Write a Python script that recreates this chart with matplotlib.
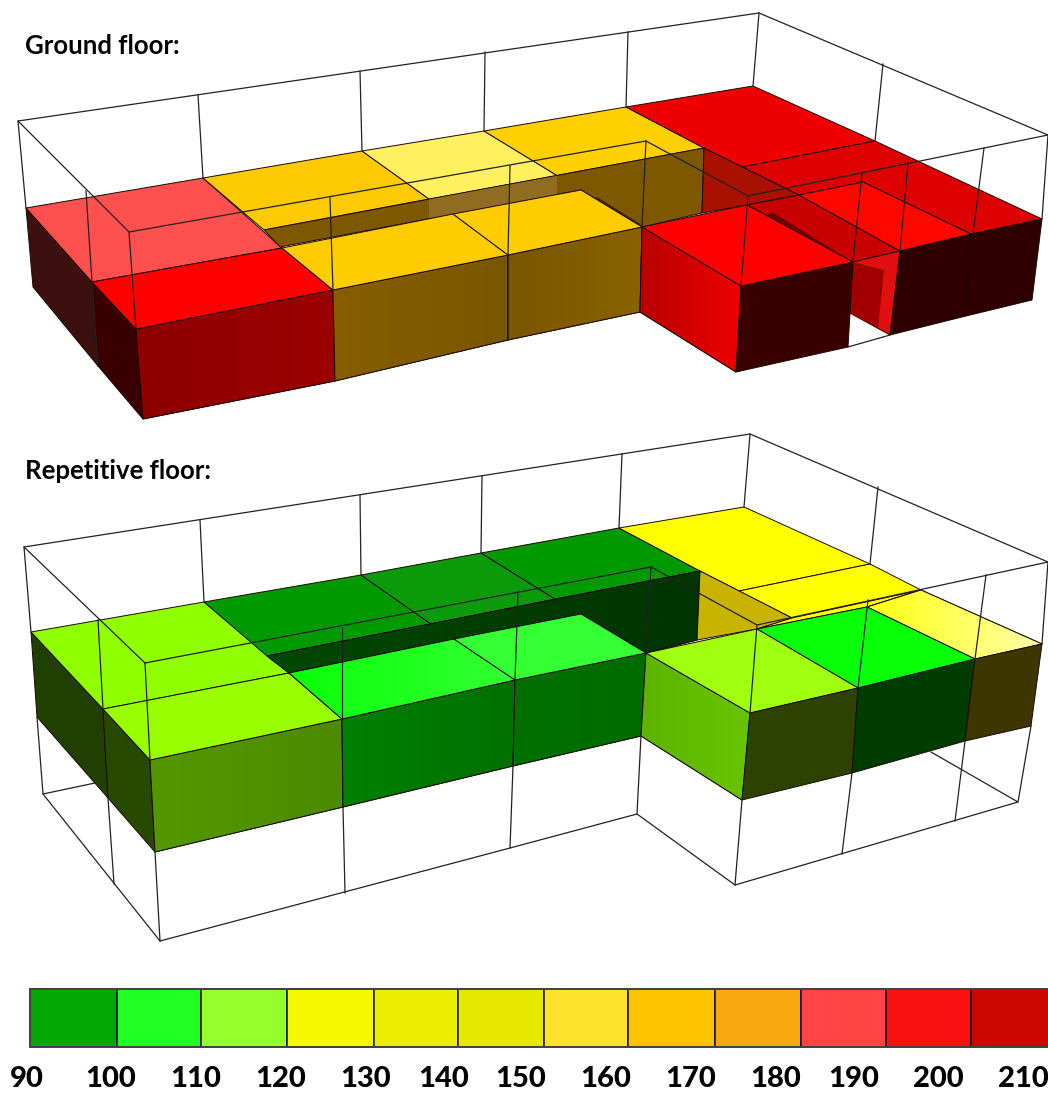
import matplotlib
matplotlib.use("Agg")
import matplotlib.pyplot as plt
from matplotlib.colors import LinearSegmentedColormap
from matplotlib.patches import Polygon
import numpy as np

plt.rcParams['font.family'] = ['Lato', 'DejaVu Sans']

# colour scale
scale_labels = [90, 100, 110, 120, 130, 140, 150, 160, 170, 180, 190, 200, 210]
scale_label_x = [27, 111, 196, 281, 366, 444, 521, 606, 691, 776, 854, 938, 1023]
scale_edges = [30, 117, 201, 287, 374, 458, 544, 628, 715, 801, 886, 971, 1052]
scale_colors = ["#04a804", "#22ff22", "#94ff2a", "#f5f800", "#ecf000", "#e6e800",
                "#ffe22d", "#ffc400", "#f7a90f", "#ff4545", "#fb1010", "#cc0600"]

# faces of the model, back to front: corners, colour, optional colour at the right end,
# optional edge setting ("none" for shading patches without an outline)
ground_faces = [
    ([(26, 208), (92, 282), (98, 366), (33, 287)], "#3d1010"),
    ([(92, 282), (136, 329), (143, 419), (98, 366)], "#3a0000"),
    ([(136, 329), (333, 290), (335, 381), (143, 419)], "#8e0000", "#9c0000"),
    ([(333, 290), (508, 255), (508, 340), (335, 381)], "#875e00", "#7a5600"),
    ([(508, 255), (642, 227), (640, 312), (508, 340)], "#7a5600", "#8a6200"),
    ([(26, 208), (203, 178), (282, 248), (92, 282)], "#ff5050"),
    ([(92, 282), (282, 248), (333, 290), (136, 329)], "#ff0000"),
    ([(203, 178), (362, 151), (429, 199), (264, 230)], "#fdc900"),
    ([(362, 151), (484, 131), (557, 175.5), (429, 199)], "#fff060"),
    ([(484, 131), (626, 107), (704, 148), (557, 175.5)], "#ffd000"),
    ([(264, 230), (704, 148), (702, 213), (642, 227), (581, 190), (280, 247)], "#7d5800"),
    ([(429, 199.5), (557, 176), (557, 194.5), (429, 218.5)], "#8f6c22", None, "none"),
    ([(597, 197), (642, 225), (628, 222), (590, 200)], "#3a2800", None, "none"),
    ([(282, 248), (453, 214), (508, 255), (333, 290)], "#ffcc00"),
    ([(453, 214), (581, 190), (642, 227), (508, 255)], "#ffcc00"),
    ([(626, 107), (753, 86), (875, 141), (742, 167), (704, 148)], "#ee0000"),
    ([(742, 167), (875, 141), (1042, 219), (971, 234), (863, 182), (799, 195)], "#dd0000"),
    ([(704, 148), (799, 195), (747, 205), (702, 213)], "#a81000"),
    ([(747, 205), (799, 195), (900, 251), (853, 262)], "#c80000"),
    ([(772, 212), (853, 262), (846, 261), (766, 215)], "#6e0000", None, "none"),
    ([(799, 195), (863, 182), (971, 234), (900, 251)], "#ff0600"),
    ([(853, 262), (900, 251), (890, 335), (848, 312)], "#e01010"),
    ([(853, 262), (884, 270), (878, 328), (848, 312)], "#a00000", None, "none"),
    ([(900, 251), (973, 234), (966, 316), (890, 335)], "#2e0000"),
    ([(973, 234), (1042, 219), (1032, 300), (966, 316)], "#2e0000"),
    ([(642, 227), (741, 286), (736, 372), (640, 312)], "#b80000", "#ee0000"),
    ([(741, 286), (853, 262), (848, 347), (736, 372)], "#380000"),
    ([(642, 227), (747, 205), (853, 262), (741, 286)], "#ff0000"),
]

repetitive_faces = [
    ([(31, 632), (103, 709), (108, 798), (37, 717)], "#1f4000"),
    ([(103, 709), (150, 760), (155, 852), (108, 798)], "#264a00"),
    ([(150, 760), (342, 719), (343, 807), (155, 852)], "#549800", "#4c8a00"),
    ([(342, 719), (515, 680), (513, 766), (343, 807)], "#008000", "#007000"),
    ([(515, 680), (646, 653), (641, 736), (513, 766)], "#007000", "#006c00"),
    ([(31, 632), (204, 602), (289, 673), (103, 709)], "#90ff00"),
    ([(103, 709), (289, 673), (342, 719), (150, 760)], "#99ff00"),
    ([(204, 602), (361, 575), (431, 624), (267, 656)], "#009900"),
    ([(361, 575), (481, 553), (555, 599), (431, 624)], "#0a9a0a"),
    ([(481, 553), (619, 528), (700, 571), (555, 599)], "#009900"),
    ([(267, 656), (700, 571), (697, 640), (646, 653), (581, 614), (289, 673)], "#004800", "#003400"),
    ([(597, 622), (646, 652), (632, 650), (590, 625)], "#001c00", None, "none"),
    ([(289, 673), (454, 639), (515, 680), (342, 719)], "#0aff0a", "#33ff33"),
    ([(454, 639), (581, 614), (646, 653), (515, 680)], "#33ff33"),
    ([(619, 528), (744, 507), (870, 564), (739, 591), (700, 571)], "#ffff00"),
    ([(739, 591), (870, 564), (921, 590), (792, 618)], "#ffff00"),
    ([(700, 571), (792, 618), (757, 629), (697, 640)], "#c8b400"),
    ([(757, 629), (792, 618), (921, 590), (867, 607)], "#ffff00"),
    ([(867, 607), (921, 590), (1042, 644), (975, 659)], "#ffff10", "#ffffa8"),
    ([(757, 629), (867, 607), (975, 659), (858, 688)], "#08ff08"),
    ([(646, 653), (750, 713), (742, 800), (641, 736)], "#5cb400", "#68c400"),
    ([(646, 653), (757, 629), (858, 688), (750, 713)], "#a0ff10"),
    ([(750, 713), (858, 688), (852, 773), (742, 800)], "#2e4200"),
    ([(858, 688), (975, 659), (965, 741), (852, 773)], "#003c00"),
    ([(975, 659), (1042, 644), (1031, 726), (965, 741)], "#3e3600"),
]

# bounding frame lines
ground_wires = [
    [(26, 208), (18, 121), (759, 13), (1048, 135), (1042, 219)],
    [(198, 95), (203, 178)], [(360, 71), (362, 151)], [(485, 52), (484, 131)],
    [(628, 32), (626, 107)], [(759, 13), (753, 86)], [(883, 64), (875, 141)],
    [(18, 121), (129, 232), (646, 141), (748, 196), (1048, 135)],
    [(86, 191), (92, 282), (98, 366)], [(129, 232), (136, 329)],
    [(330, 198), (333, 290)], [(510, 166), (508, 255), (508, 340)],
    [(646, 141), (642, 227)], [(748, 196), (741, 286)],
    [(862, 173), (853, 262)], [(908, 163), (900, 251)], [(984, 148), (973, 234)],
    [(848, 347), (890, 335)],
]

repetitive_wires = [
    [(31, 632), (24, 547), (750, 434), (1048, 562), (1042, 644)],
    [(200, 520), (204, 602)], [(360, 495), (361, 575)], [(482, 476), (481, 553)],
    [(622, 454), (619, 528)], [(750, 434), (744, 507)], [(878, 487), (870, 564)],
    [(24, 547), (145, 663), (651, 567), (757, 625), (1048, 562)],
    [(98, 620), (103, 709)], [(145, 663), (150, 760)], [(342, 628), (342, 719)],
    [(518, 594), (515, 680)], [(651, 567), (646, 653)], [(757, 625), (750, 713)],
    [(868, 600), (858, 688)], [(986, 575), (975, 659)],
    [(37, 717), (43, 794), (95, 783)], [(108, 798), (114, 884)],
    [(155, 852), (160, 941)], [(343, 807), (345, 893)], [(513, 766), (510, 848)],
    [(641, 736), (637, 814)], [(742, 800), (735, 885)], [(852, 773), (842, 854)],
    [(965, 741), (955, 821)], [(1031, 726), (1018, 802)],
    [(43, 794), (160, 941), (510, 848), (637, 814), (735, 885), (1018, 802), (931, 752)],
]

fig = plt.figure(figsize=(10.48, 10.93), dpi=100)
ax = fig.add_axes([0, 0, 1, 1])
order = [1]


def draw_face(face):
    verts = face[0]
    edge = face[3] if len(face) > 3 else "#1a0a00"
    order[0] += 1
    poly = Polygon(verts, closed=True, facecolor=face[1], edgecolor=edge,
                   linewidth=0.7, zorder=order[0])
    ax.add_patch(poly)
    if len(face) > 2 and face[2] is not None:
        # side shading from left to right
        xs = [v[0] for v in verts]
        ys = [v[1] for v in verts]
        cmap = LinearSegmentedColormap.from_list("shade", [face[1], face[2]])
        im = ax.imshow(np.linspace(0, 1, 64).reshape(1, -1), cmap=cmap, aspect="auto",
                       extent=(min(xs), max(xs), max(ys), min(ys)), zorder=order[0])
        im.set_clip_path(poly)
        order[0] += 1
        ax.add_patch(Polygon(verts, closed=True, fill=False, edgecolor=edge,
                             linewidth=0.7, zorder=order[0]))


def draw_wires(wires):
    for wire in wires:
        ax.plot([p[0] for p in wire], [p[1] for p in wire], color="#222222",
                linewidth=0.9, solid_joinstyle="miter", zorder=500)


for face in ground_faces:
    draw_face(face)
draw_wires(ground_wires)
for face in repetitive_faces:
    draw_face(face)
draw_wires(repetitive_wires)

# colour scale along the bottom
ax.bar(scale_edges[:-1], 58, width=np.diff(scale_edges), bottom=989, align="edge",
       color=scale_colors, edgecolor="#111111", linewidth=1.1, zorder=600)
ax.plot([30, 30, 1048], [989, 1047, 1047], color="#444444", linewidth=1.4, zorder=601)
ax.plot([30, 1048], [989, 989], color="#444444", linewidth=1.4, zorder=601)
for x, label in zip(scale_label_x, scale_labels):
    ax.text(x, 1079, str(label), ha="center", va="center", fontsize=21,
            fontweight=900, color="black")

ax.text(25, 46, "Ground floor:", ha="left", va="center", fontsize=18.5,
        fontweight="bold", color="black")
ax.text(25, 471, "Repetitive floor:", ha="left", va="center", fontsize=18.5,
        fontweight="bold", color="black")

ax.set_xlim(0, 1048)
ax.set_ylim(1093, 0)
ax.axis("off")
fig.savefig("out.png", dpi=100)
